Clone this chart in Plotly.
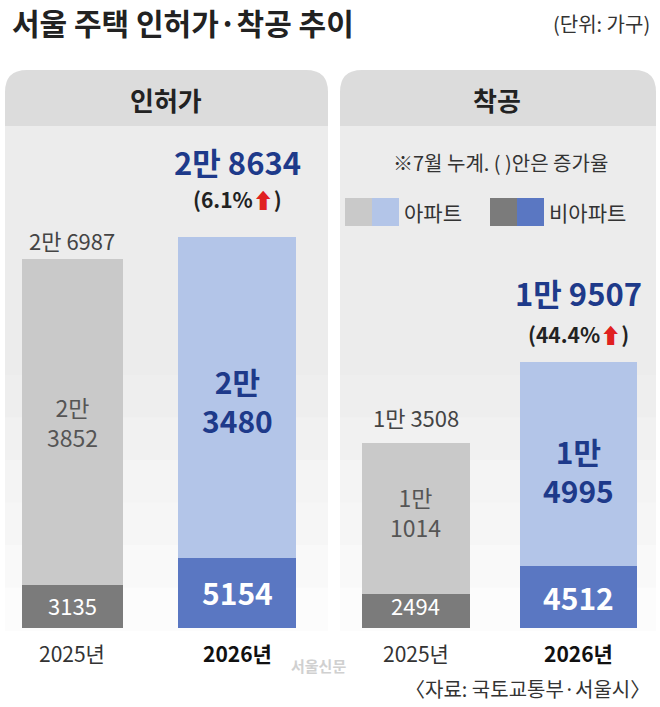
import plotly.graph_objects as go

W, H = 660, 707
years = ["2025년", "2026년"]
permit_apt = [23852, 23480]
permit_non = [3135, 5154]
permit_total = [26987, 28634]
start_apt = [11014, 14995]
start_non = [2494, 4512]
start_total = [13508, 19507]
permit_growth = "6.1"
start_growth = "44.4"

FONT = "Noto Sans CJK KR"
def px(x): return x / W
def py(y): return 1 - y / H

fig = go.Figure()
base_px, top_px = 628, 140
ymax = (base_px - top_px) / 0.01366
ydom = [py(base_px), py(top_px)]

apt_col = ["#c9c9c9", "#b3c5e8"]
non_col = ["#7b7b7b", "#5a77c2"]

def add_panel(xa, ya, centers, widths, apt, non):
    fig.add_bar(x=centers, y=non, width=widths, marker_color=non_col, marker_line_width=0,
                xaxis=xa, yaxis=ya, showlegend=False, hoverinfo="skip")
    fig.add_bar(x=centers, y=apt, width=widths, marker_color=apt_col, marker_line_width=0,
                xaxis=xa, yaxis=ya, showlegend=False, hoverinfo="skip")

add_panel("x", "y", [72, 237], [101, 118], permit_apt, permit_non)
add_panel("x2", "y2", [416, 578], [108, 117], start_apt, start_non)

ax = dict(showgrid=False, zeroline=False, showticklabels=False, fixedrange=True)
fig.update_layout(
    barmode="stack", width=W, height=H, margin=dict(l=0, r=0, t=0, b=0),
    paper_bgcolor="white", plot_bgcolor="rgba(0,0,0,0)",
    xaxis=dict(domain=[0, 0.5], range=[0, 330], **ax),
    xaxis2=dict(domain=[0.5, 1], range=[330, 660], **ax),
    yaxis=dict(domain=ydom, range=[0, ymax], **ax),
    yaxis2=dict(domain=ydom, range=[0, ymax], anchor="x2", **ax),
    font=dict(family=FONT),
)

shapes = []
def rrect_top(x0, y0, x1, y1, r, color):
    X0, X1 = px(x0), px(x1)
    Y0, Y1 = py(y0), py(y1)
    rx, ry = r / W, r / H
    path = (f"M {X0},{Y1} L {X0},{Y0-ry} Q {X0},{Y0} {X0+rx},{Y0} L {X1-rx},{Y0} "
            f"Q {X1},{Y0} {X1},{Y0-ry} L {X1},{Y1} Z")
    return dict(type="path", path=path, xref="paper", yref="paper", fillcolor=color,
                line_width=0, layer="below")

for (a, b) in [(5, 328), (340, 656)]:
    n = 12
    for i in range(n):
        y0 = 120 + i * (510 / n)
        y1 = y0 + 510 / n + 1
        g = int(236 + (255 - 236) * max(0, (i - 5)) / (n - 5))
        shapes.append(dict(type="rect", xref="paper", yref="paper", x0=px(a), x1=px(b),
                           y0=py(y1), y1=py(y0), fillcolor=f"rgb({g},{g},{g})",
                           line_width=0, layer="below"))
    shapes.append(rrect_top(a, 70, b, 126, 22, "#dcdcdc"))

for (x0, c) in [(345, "#c9c9c9"), (372, "#b3c5e8"), (490, "#7b7b7b"), (517, "#5a77c2")]:
    shapes.append(dict(type="rect", xref="paper", yref="paper", x0=px(x0), x1=px(x0 + 27),
                       y0=py(226), y1=py(198), fillcolor=c, line_width=0))
fig.update_layout(shapes=shapes)

ann = []
def t(x, y, text, size, color="#333", bold=False, xanchor="center"):
    if bold:
        text = f"<b>{text}</b>"
    ann.append(dict(x=px(x), y=py(y), xref="paper", yref="paper", text=text, showarrow=False,
                    font=dict(size=size, color=color, family=FONT), xanchor=xanchor, yanchor="middle"))

def man(v):
    return f"{v // 10000}만 {v % 10000:04d}" if v >= 10000 else f"{v}"

t(10, 22, "서울 주택 인허가·착공 추이", 30, "#222", True, "left")
t(652, 24, "(단위: 가구)", 20, "#333", False, "right")
t(166, 99, "인허가", 26, "#222", True)
t(497, 99, "착공", 26, "#222", True)

navy = "#1e3a8a"
t(72, 240, man(permit_total[0]), 22, "#444")
t(237, 161, man(permit_total[1]), 31, navy, True)
t(237, 199, f"({permit_growth}%<span style='color:#e02020'>⬆</span>)", 21, "#222", True)
t(416, 417, man(start_total[0]), 22, "#444")
t(578, 292, man(start_total[1]), 31, navy, True)
t(578, 334, f"({start_growth}%<span style='color:#e02020'>⬆</span>)", 21, "#222", True)

t(72, 422, f"{permit_apt[0]//10000}만<br>{permit_apt[0]%10000}", 23, "#555")
t(72, 605, str(permit_non[0]), 22, "white")
t(237, 400, f"{permit_apt[1]//10000}만<br>{permit_apt[1]%10000}", 30, navy, True)
t(237, 592, str(permit_non[1]), 30, "white", True)
t(416, 512, f"{start_apt[0]//10000}만<br>{start_apt[0]%10000}", 23, "#555")
t(416, 605, str(start_non[0]), 22, "white")
t(578, 470, f"{start_apt[1]//10000}만<br>{start_apt[1]%10000}", 30, navy, True)
t(578, 597, str(start_non[1]), 30, "white", True)

t(72, 653, years[0], 21, "#333")
t(237, 653, years[1], 21, "#111", True)
t(416, 653, years[0], 21, "#333")
t(578, 653, years[1], 21, "#111", True)

t(500, 163, "※7월 누계. ( )안은 증가율", 20, "#333")
t(402, 212, "아파트", 21, "#333", False, "left")
t(547, 212, "비아파트", 21, "#333", False, "left")

t(318, 665, "서울신문", 15, "#d0d0d0", True, "center")
t(652, 688, "〈자료: 국토교통부·서울시〉", 20, "#333", False, "right")
fig.update_layout(annotations=ann)

fig.write_html("out.html", config={"displayModeBar": False},
               post_script="document.body.style.margin='0';document.body.style.overflow='hidden';")
